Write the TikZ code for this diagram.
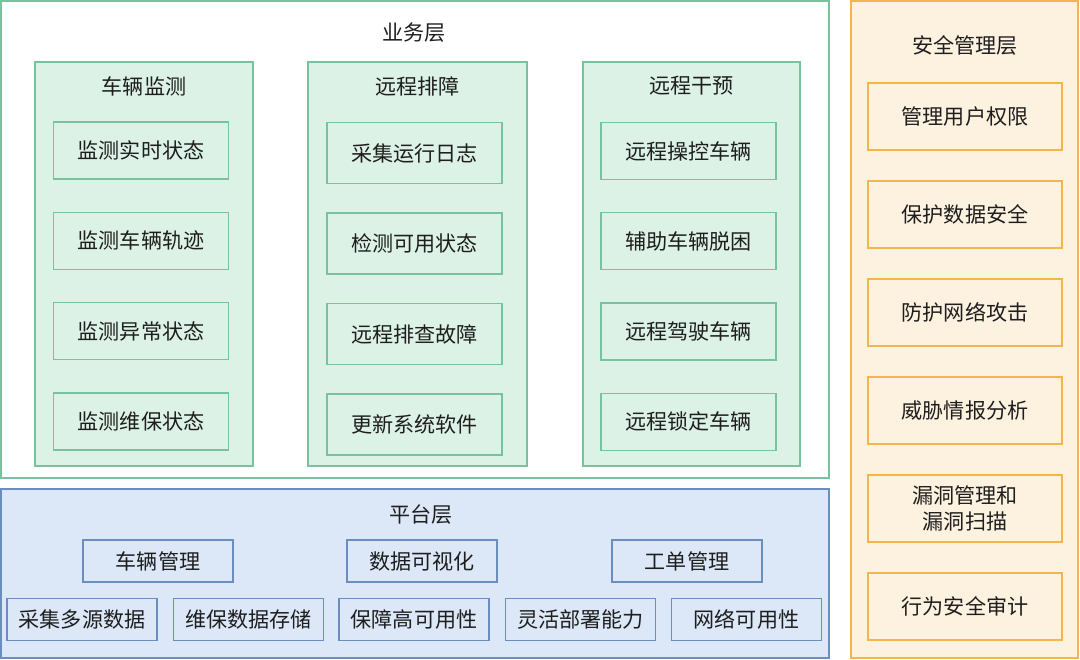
\documentclass[tikz,border=0pt]{standalone}
\usepackage{fontspec}
\setmainfont{Noto Sans CJK SC}
\usepackage{xcolor}
\definecolor{bizline}{HTML}{78C29E}
\definecolor{bizfill}{HTML}{DCF2E7}
\definecolor{platline}{HTML}{6C8EBF}
\definecolor{platfill}{HTML}{DCE8F8}
\definecolor{secline}{HTML}{F4B44E}
\definecolor{secfill}{HTML}{FDF1DF}
\definecolor{textdark}{HTML}{1E1E1E}

\begin{document}
\begin{tikzpicture}[x=0.025cm,y=-0.025cm]
  \tikzset{
    title/.style={font=\fontsize{15}{18}\selectfont,text=textdark},
    bizbox/.style={draw=bizline,fill=bizfill,line width=0.9pt,inner sep=0pt,
      minimum width=4.38cm,minimum height=1.425cm,title},
    platbox/.style={draw=platline,fill=platfill,line width=0.9pt,inner sep=0pt,
      minimum width=3.75cm,minimum height=1.05cm,title},
    secbox/.style={draw=secline,fill=secfill,line width=0.9pt,inner sep=0pt,
      minimum width=4.85cm,minimum height=1.675cm,title,align=center},
  }
  \useasboundingbox (0,0) rectangle (1080,659);

  % Business layer, three columns of four boxes.
  \draw[bizline,line width=0.9pt,fill=white] (1,1) rectangle (829,478);
  \node[title] (biztitle) at (414,33) {业务层};

  \draw[bizline,line width=0.9pt,fill=bizfill] (35,62) rectangle (253,466);
  \node[title] (montitle) at (144,86) {车辆监测};
  \foreach \name [count=\i] in {监测实时状态,监测车辆轨迹,监测异常状态,监测维保状态} {
    \node[bizbox] (mon\i) at (141,{150.5+90.3*(\i-1)}) {\name};
  }

  \draw[bizline,line width=0.9pt,fill=bizfill] (308,62) rectangle (527,466);
  \node[title] (diagtitle) at (417.5,86) {远程排障};
  \foreach \name [count=\i] in {采集运行日志,检测可用状态,远程排查故障,更新系统软件} {
    \node[bizbox,minimum height=1.525cm] (diag\i) at (414.5,{153+90.5*(\i-1)}) {\name};
  }

  \draw[bizline,line width=0.9pt,fill=bizfill] (583,62) rectangle (800,466);
  \node[title] (ctrltitle) at (691.5,86) {远程干预};
  \foreach \name [count=\i] in {远程操控车辆,辅助车辆脱困,远程驾驶车辆,远程锁定车辆} {
    \node[bizbox] (ctrl\i) at (688.5,{151+90.3*(\i-1)}) {\name};
  }

  % Platform layer.
  \draw[platline,line width=0.9pt,fill=platfill] (1,489) rectangle (829,658);
  \node[title] (plattitle) at (421,515) {平台层};
  \foreach \xx/\name [count=\i] in {158/车辆管理,422/数据可视化,687/工单管理} {
    \node[platbox] (plata\i) at (\xx,561) {\name};
  }
  \foreach \xx/\name [count=\i] in {82/采集多源数据,248.5/维保数据存储,414/保障高可用性,
      580.5/灵活部署能力,746.5/网络可用性} {
    \node[platbox] (platb\i) at (\xx,619.5) {\name};
  }

  % Security layer on the right.
  \draw[secline,line width=0.9pt,fill=secfill] (851,1) rectangle (1078,658);
  \node[title] (sectitle) at (965,45) {安全管理层};
  \foreach \name [count=\i] in {管理用户权限,保护数据安全,防护网络攻击,威胁情报分析,
      {\fontsize{15}{16.5}\selectfont 漏洞管理和\\漏洞扫描},行为安全审计} {
    \node[secbox] (sec\i) at (965,{116.5+98*(\i-1)}) {\name};
  }
\end{tikzpicture}
\end{document}
